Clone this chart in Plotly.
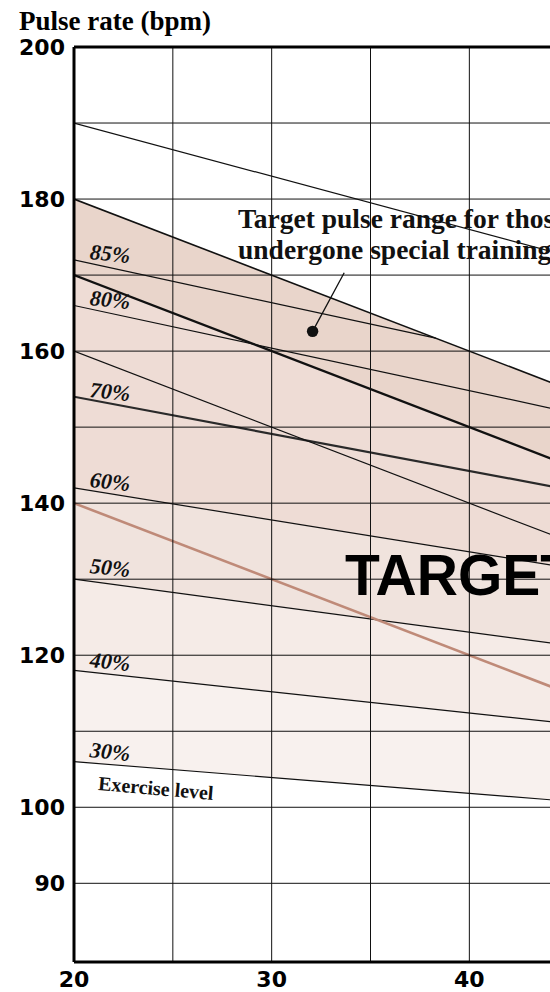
import plotly.graph_objects as go

# ---- data -------------------------------------------------------------
ages = [20, 45]

upper_limit = [190, 172.5]      # thin line from 190 bpm
training_top = [180, 155]       # top of the special-training band
training_bottom = [170, 145]    # bold line, bottom of that band
steep_line = [160, 135]
brown_line = [140, 115]

pct_labels = ["85%", "80%", "70%", "60%", "50%", "40%", "30%"]
pct_start = [172, 166, 154, 142, 130, 118, 106]
pct_end_age = [38.3, 45, 45, 45, 45, 45, 45]
pct_end = [161.7, 152.0, 141.8, 131.5, 121.3, 111.0, 100.8]
pct_label_bpm = [172.9, 166.8, 154.7, 142.9, 131.5, 119.2, 107.4]

band_colors = {"60%": "#eedcd5", "50%": "#f0e3dd", "40%": "#f5ebe7", "30%": "#f8f1ee"}
training_color = "#e9d5cb"

grid_ages = [25, 30, 35, 40, 45]
grid_bpm = [90, 100, 110, 120, 130, 140, 150, 160, 170, 180, 190]
x_ticks = [20, 30, 40]
y_ticks = [90, 100, 120, 140, 160, 180, 200]
y_min, y_max = 79.65, 200

SERIF = "Liberation Serif"
SANS = "Liberation Sans"
NUM = "DejaVu Sans"

fig = go.Figure()

def pct_line(label):
    i = pct_labels.index(label)
    return [20, pct_end_age[i]], [pct_start[i], pct_end[i]]

# ---- shaded bands (bottom up, each filled to the trace below) ---------
x30, y30 = pct_line("30%")
fig.add_trace(go.Scatter(x=x30, y=y30, mode="lines", line=dict(width=0),
                         hoverinfo="skip", showlegend=False))
below = {"40%": "30%", "50%": "40%", "60%": "50%"}
for lab in ["40%", "50%", "60%"]:
    xs, ys = pct_line(lab)
    fig.add_trace(go.Scatter(x=xs, y=ys, mode="lines", line=dict(width=0),
                             fill="tonexty", fillcolor=band_colors[below[lab]],
                             hoverinfo="skip", showlegend=False))
fig.add_trace(go.Scatter(x=ages, y=training_bottom, mode="lines", line=dict(width=0),
                         fill="tonexty", fillcolor=band_colors["60%"],
                         hoverinfo="skip", showlegend=False))
fig.add_trace(go.Scatter(x=ages, y=training_top, mode="lines", line=dict(width=0),
                         fill="tonexty", fillcolor=training_color,
                         hoverinfo="skip", showlegend=False))

# ---- lines ------------------------------------------------------------
def add_line(xs, ys, color="#111111", width=1.2):
    fig.add_trace(go.Scatter(x=xs, y=ys, mode="lines",
                             line=dict(color=color, width=width),
                             hoverinfo="skip", showlegend=False))

add_line(ages, upper_limit)
for lab in pct_labels:
    xs, ys = pct_line(lab)
    add_line(xs, ys, color="#2a2a2a" if lab == "70%" else "#111111",
             width=2.2 if lab == "70%" else 1.2)
add_line(ages, steep_line)
add_line(ages, brown_line, color="#bf8a78", width=2.6)
add_line(ages, training_bottom, width=2.4)
add_line(ages, training_top, width=1.6)

# ---- grid drawn over the fills ---------------------------------------
for a in grid_ages:
    fig.add_shape(type="line", xref="x", yref="y", x0=a, x1=a, y0=y_min, y1=y_max,
                  line=dict(color="#111111", width=1), layer="above")
for b in grid_bpm:
    fig.add_shape(type="line", xref="x", yref="y", x0=20, x1=45, y0=b, y1=b,
                  line=dict(color="#111111", width=1), layer="above")

# heavy frame on the left, top and bottom edges of the plot area
frame = dict(color="#000000", width=3)
fig.add_shape(type="line", xref="paper", yref="paper", x0=0, x1=0, y0=0, y1=1,
              line=frame, layer="above")
fig.add_shape(type="line", xref="paper", yref="paper", x0=0, x1=1, y0=1, y1=1,
              line=frame, layer="above")
fig.add_shape(type="line", xref="paper", yref="paper", x0=0, x1=1, y0=0, y1=0,
              line=frame, layer="above")

# ---- text -------------------------------------------------------------
for lab, yb in zip(pct_labels, pct_label_bpm):
    fig.add_annotation(x=21.8, y=yb, text=f"<b><i>{lab}</i></b>", showarrow=False,
                       textangle=6, font=dict(family=SERIF, size=22, color="#111111"))
fig.add_annotation(x=24.15, y=102.5, text="<b>Exercise level</b>", showarrow=False,
                   textangle=5, font=dict(family=SERIF, size=20, color="#111111"))

fig.add_annotation(x=28.2, y=177.5, xanchor="left", yanchor="middle",
                   text="<b>Target pulse range for those who have</b>", showarrow=False,
                   font=dict(family=SERIF, size=27.5, color="#111111"))
fig.add_annotation(x=28.2, y=173.4, xanchor="left", yanchor="middle",
                   text="<b>undergone special training</b>", showarrow=False,
                   font=dict(family=SERIF, size=27.5, color="#111111"))
fig.add_annotation(x=32.07, y=162.6, ax=33.71, ay=170.5, axref="x", ayref="y",
                   text="", showarrow=True, arrowhead=6, arrowsize=2.2,
                   arrowwidth=1.3, arrowcolor="#111111")

fig.add_annotation(x=33.6, y=130.5, xanchor="left", yanchor="middle",
                   text="<b>TARGET ZONE</b>", showarrow=False,
                   font=dict(family=SANS, size=57, color="#000000"))

fig.add_annotation(xref="paper", yref="paper", x=-0.12, y=1.028,
                   xanchor="left", yanchor="middle",
                   text="<b>Pulse rate (bpm)</b>", showarrow=False,
                   font=dict(family=SERIF, size=27, color="#000000"))

# ---- axes / layout ----------------------------------------------------
fig.update_xaxes(range=[20, 44.08], showgrid=False, zeroline=False, showline=False,
                 automargin=False,
                 tickvals=x_ticks, ticktext=[str(v) for v in x_ticks],
                 ticks="", ticklabelstandoff=2,
                 tickfont=dict(family=NUM, size=22, color="#000000", weight="bold"))
fig.update_yaxes(range=[y_min, y_max], showgrid=False, zeroline=False, showline=False,
                 automargin=False,
                 tickvals=y_ticks, ticktext=[str(v) for v in y_ticks],
                 ticks="", ticklabelstandoff=8,
                 tickfont=dict(family=NUM, size=22, color="#000000", weight="bold"))
fig.update_layout(width=550, height=992,
                  margin=dict(l=74, r=0, t=47, b=30, autoexpand=False),
                  paper_bgcolor="#ffffff", plot_bgcolor="#ffffff",
                  showlegend=False)

fig.write_html("out.html")
